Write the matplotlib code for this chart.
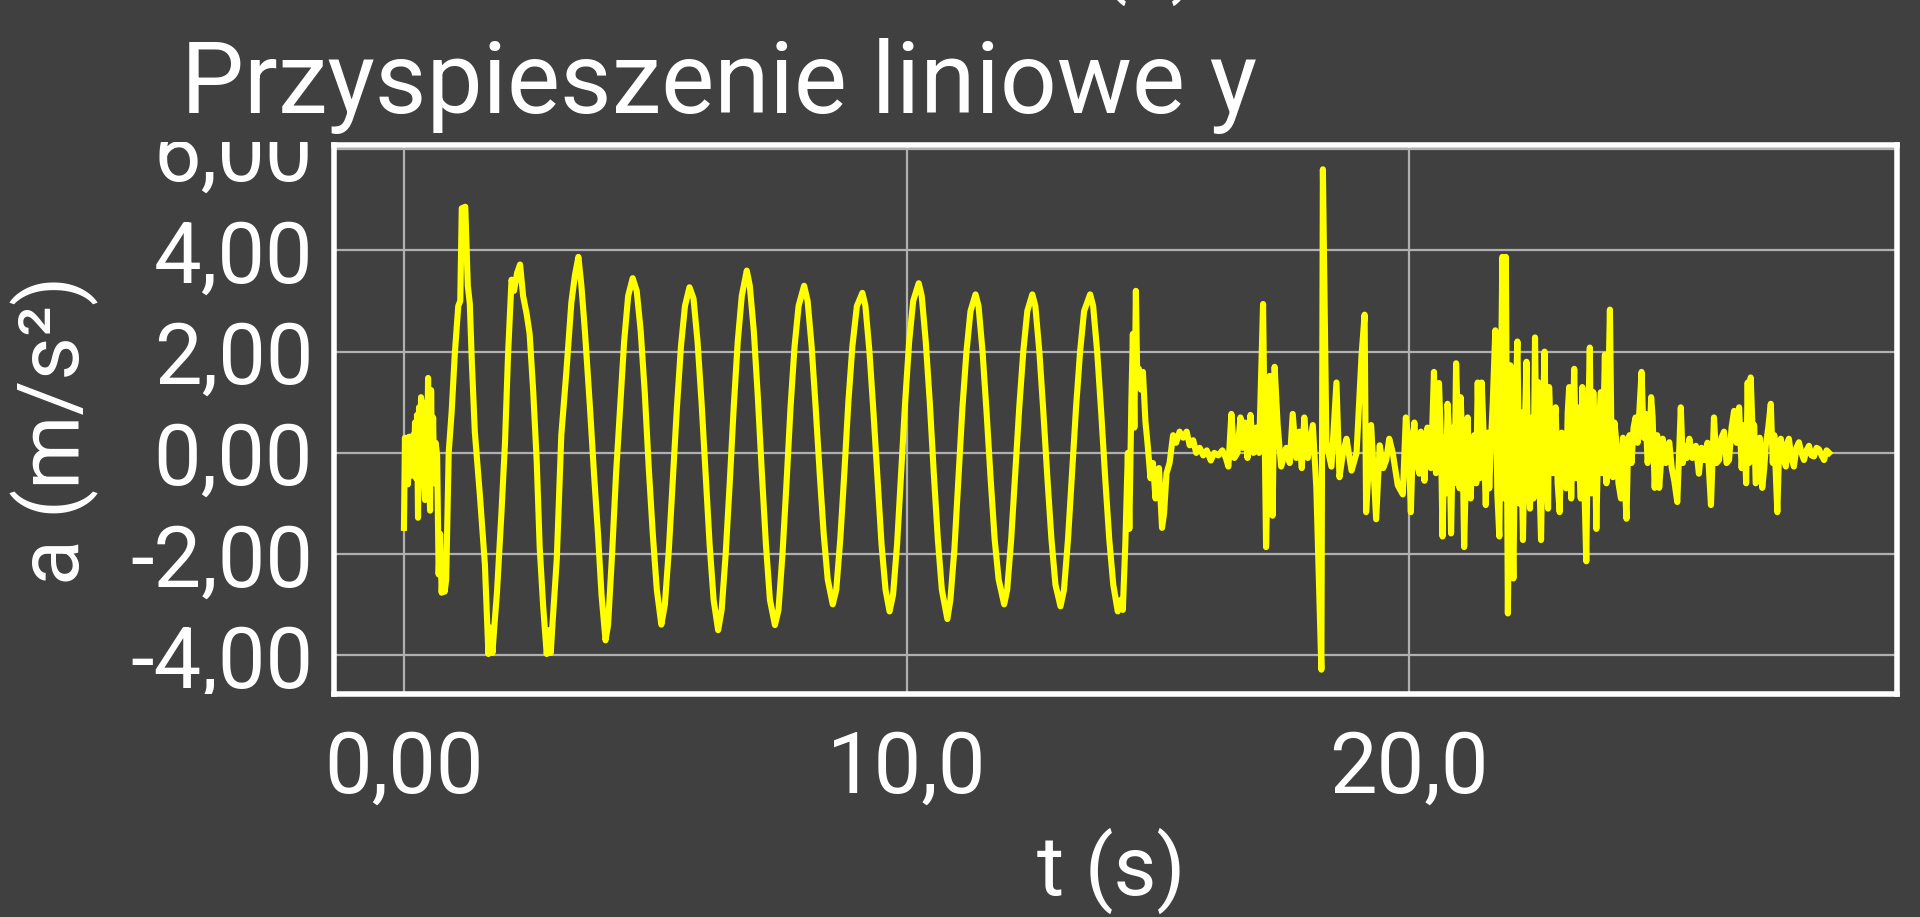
import matplotlib
matplotlib.use('Agg')
import matplotlib.pyplot as plt
from matplotlib.transforms import Bbox, TransformedBbox

# (t [s], a [m/s^2]), split into parts of the recording
onset = [
    (0.00, -1.48), (0.02, 0.30), (0.04, -0.35), (0.06, 0.28), (0.08, -0.62),
    (0.10, 0.32), (0.12, -0.20), (0.14, 0.30), (0.16, -0.45), (0.18, 0.35),
    (0.20, -0.30), (0.22, 0.60), (0.24, -0.50), (0.26, 0.75), (0.28, -1.28),
    (0.30, 0.90), (0.32, -0.60), (0.34, 1.10), (0.36, -0.40), (0.38, 0.85),
    (0.40, -0.55), (0.42, -0.93), (0.44, 1.00), (0.46, -0.20), (0.48, 1.48),
    (0.50, -0.40), (0.52, -1.14), (0.54, 1.24), (0.56, -0.30), (0.58, 0.70),
    (0.60, -0.60), (0.63, 0.20), (0.66, -0.05), (0.69, -2.40), (0.72, -1.60),
    (0.75, -2.76), (0.78, -2.20), (0.81, -2.74), (0.84, -2.50), (0.86, -1.50),
    (0.89, 0.00), (0.95, 0.83),
]

swing = [
    (1.01, 1.93), (1.08, 2.90), (1.12, 3.00), (1.15, 4.83), (1.22, 4.86),
    (1.27, 3.30), (1.31, 2.95), (1.35, 1.80), (1.41, 0.41), (1.51, -0.83),
    (1.61, -2.20), (1.68, -3.97), (1.72, -3.45), (1.76, -3.95), (1.80, -3.40),
    (1.85, -2.76), (1.94, -1.17), (2.01, 0.20), (2.07, 1.93), (2.14, 3.42),
    (2.19, 3.20), (2.25, 3.55), (2.31, 3.72), (2.37, 3.10), (2.44, 2.75),
    (2.50, 2.35), (2.57, 1.24), (2.64, -0.14), (2.70, -1.86), (2.77, -3.04),
    (2.84, -3.97), (2.88, -3.50), (2.92, -3.95), (2.96, -3.30), (3.04, -2.10),
    (3.13, 0.35), (3.23, 1.59), (3.33, 2.97), (3.40, 3.50), (3.47, 3.87),
    (3.53, 3.30), (3.60, 2.40), (3.70, 0.90), (3.78, -0.40), (3.86, -1.60),
    (3.93, -2.80), (4.01, -3.70), (4.06, -3.40), (4.14, -2.00), (4.22, -0.40),
    (4.30, 0.90), (4.38, 2.20), (4.46, 3.10), (4.55, 3.45), (4.63, 3.20),
    (4.71, 2.40), (4.79, 1.20), (4.87, -0.30), (4.95, -1.60), (5.03, -2.70),
    (5.12, -3.39), (5.19, -3.00), (5.27, -1.90), (5.35, -0.50), (5.43, 0.90),
    (5.51, 2.10), (5.59, 2.90), (5.68, 3.27), (5.76, 3.05), (5.84, 2.20),
    (5.92, 1.00), (6.00, -0.40), (6.08, -1.80), (6.16, -2.90), (6.25, -3.50),
    (6.32, -3.10), (6.40, -2.00), (6.48, -0.60), (6.56, 0.90), (6.64, 2.20),
    (6.72, 3.10), (6.82, 3.60), (6.88, 3.30), (6.96, 2.40), (7.04, 1.10),
    (7.12, -0.40), (7.20, -1.80), (7.28, -2.90), (7.38, -3.40), (7.45, -3.10),
    (7.53, -2.00), (7.61, -0.60), (7.69, 0.90), (7.77, 2.10), (7.85, 2.90),
    (7.96, 3.30), (8.03, 3.00), (8.11, 2.10), (8.19, 0.90), (8.27, -0.40),
    (8.35, -1.60), (8.43, -2.50), (8.53, -2.99), (8.60, -2.70), (8.68, -1.70),
    (8.76, -0.40), (8.84, 1.00), (8.92, 2.10), (9.01, 2.90), (9.12, 3.16),
    (9.18, 2.90), (9.26, 2.00), (9.34, 0.80), (9.42, -0.50), (9.50, -1.80),
    (9.58, -2.70), (9.66, -3.13), (9.73, -2.80), (9.81, -1.80), (9.89, -0.40),
    (9.97, 1.00), (10.05, 2.20), (10.13, 3.00), (10.24, 3.35), (10.30, 3.10),
    (10.38, 2.20), (10.46, 1.00), (10.54, -0.40), (10.62, -1.70), (10.70, -2.70),
    (10.81, -3.28), (10.87, -2.90), (10.95, -1.90), (11.03, -0.50), (11.11, 0.90),
    (11.19, 2.00), (11.27, 2.80), (11.37, 3.13), (11.43, 2.90), (11.51, 2.00),
    (11.59, 0.80), (11.67, -0.50), (11.75, -1.70), (11.83, -2.50), (11.94, -2.99),
    (12.00, -2.70), (12.08, -1.70), (12.16, -0.40), (12.24, 0.90), (12.32, 2.00),
    (12.40, 2.80), (12.50, 3.13), (12.56, 2.90), (12.64, 2.00), (12.72, 0.80),
    (12.80, -0.50), (12.88, -1.70), (12.96, -2.60), (13.06, -3.03), (13.13, -2.70),
    (13.21, -1.70), (13.29, -0.40), (13.37, 0.90), (13.45, 2.00), (13.53, 2.80),
    (13.65, 3.13), (13.71, 2.90), (13.79, 2.00), (13.87, 0.80), (13.95, -0.50),
    (14.03, -1.70), (14.11, -2.60), (14.20, -3.13), (14.26, -2.90), (14.30, -3.10),
    (14.35, -1.80),
]

decay = [
    (14.40, 0.00), (14.43, -1.50), (14.47, 1.00), (14.50, 2.35), (14.53, 0.50),
    (14.56, 3.20), (14.59, 1.30), (14.62, 1.66), (14.66, 1.25), (14.70, 1.60),
    (14.75, 0.62), (14.80, 0.10), (14.85, -0.50), (14.90, -0.20), (14.95, -0.90),
    (15.02, -0.30), (15.08, -1.48), (15.12, -1.20), (15.17, -0.40), (15.23, -0.20),
    (15.30, 0.35), (15.36, 0.20), (15.43, 0.42), (15.50, 0.30), (15.57, 0.42),
    (15.63, 0.15), (15.70, 0.25), (15.76, 0.00), (15.83, 0.10), (15.90, -0.05),
    (15.97, 0.05), (16.05, -0.15), (16.12, 0.00), (16.20, -0.05), (16.28, 0.05),
    (16.35, -0.10), (16.40, -0.27), (16.46, 0.77), (16.52, -0.10), (16.58, 0.00),
    (16.64, 0.70), (16.68, 0.10), (16.73, 0.60), (16.78, -0.10), (16.84, 0.75),
    (16.90, 0.00), (16.96, 0.50), (17.01, 0.00), (17.09, 2.94), (17.15, -1.86),
    (17.22, 1.52), (17.28, -1.24), (17.32, 1.70), (17.38, 0.55), (17.45, -0.27),
    (17.55, 0.10), (17.62, -0.20), (17.68, 0.77), (17.75, -0.10), (17.81, 0.42),
    (17.86, -0.30), (17.91, 0.70), (17.98, -0.10), (18.08, 0.55), (18.15, -0.69),
    (18.25, -4.28), (18.28, 5.60), (18.35, 0.20), (18.45, -0.27), (18.55, 1.39),
    (18.61, -0.48), (18.68, 0.00), (18.75, 0.28), (18.85, -0.35), (18.95, 0.00),
    (19.05, 1.94), (19.11, 2.73), (19.14, -1.17), (19.24, 0.55), (19.34, -1.31),
    (19.41, 0.15), (19.48, -0.30), (19.54, -0.14), (19.60, 0.28), (19.67, 0.00),
    (19.77, -0.64),
]

tail = [
    (19.87, -0.82), (19.93, 0.70), (19.98, 0.30), (20.03, -1.17), (20.07, 0.20),
    (20.10, 0.60), (20.15, -0.20), (20.20, -0.41), (20.23, 0.42), (20.27, 0.00),
    (20.30, -0.55), (20.36, 0.50), (20.40, 0.10), (20.43, -0.30), (20.49, 1.60),
    (20.53, -0.40), (20.56, 0.60), (20.59, 1.38), (20.63, 0.20), (20.66, -1.65),
    (20.70, 0.30), (20.73, -0.80), (20.76, 0.97), (20.80, 0.20), (20.83, -1.59),
    (20.87, 0.50), (20.90, -0.60), (20.93, 1.77), (20.97, 0.40), (21.00, -0.70),
    (21.02, 1.10), (21.06, 0.10), (21.09, -1.86), (21.13, -0.20), (21.16, 0.70),
    (21.19, -0.50), (21.22, -0.90), (21.26, 0.20), (21.29, 0.35), (21.33, -0.60),
    (21.36, 1.39), (21.40, -0.50), (21.44, 1.39), (21.48, 0.30), (21.52, -1.03),
    (21.56, 0.40), (21.59, -0.70), (21.62, 0.14), (21.66, 1.00), (21.71, 2.42),
    (21.75, -0.80), (21.79, -1.65), (21.82, 1.20), (21.85, 3.87), (21.89, -0.90),
    (21.92, 3.87), (21.96, -3.17), (22.01, 1.73), (22.04, -0.80), (22.07, -2.48),
    (22.11, 0.90), (22.15, 2.20), (22.19, -1.00), (22.22, 0.80), (22.26, -1.72),
    (22.30, 0.60), (22.33, 1.80), (22.37, -0.40), (22.40, -1.10), (22.44, 0.70),
    (22.47, -0.90), (22.50, 2.28), (22.53, -0.30), (22.56, 1.40), (22.59, -0.60),
    (22.62, -1.72), (22.66, 0.80), (22.69, 2.00), (22.73, -0.50), (22.76, -1.10),
    (22.78, 1.30), (22.82, 0.20), (22.85, -0.40), (22.88, 0.60), (22.91, 0.90),
    (22.95, -0.60), (22.99, -1.17), (23.03, 0.40), (23.08, 0.35), (23.12, -0.70),
    (23.15, 0.80), (23.18, 1.30), (23.22, -0.90), (23.25, 0.50), (23.28, 1.66),
    (23.32, -0.50), (23.35, 0.90), (23.38, -0.14), (23.41, -0.90), (23.44, 1.30),
    (23.48, -0.60), (23.52, -2.14), (23.55, 0.30), (23.59, 2.08), (23.62, -0.80),
    (23.66, 1.20), (23.69, 0.20), (23.72, -1.50), (23.76, 0.40), (23.81, 1.20),
    (23.84, -0.40), (23.89, 1.94), (23.92, -0.60), (23.99, 2.83), (24.02, 0.30),
    (24.05, -0.48), (24.08, 0.60), (24.12, 0.20), (24.16, -0.60), (24.21, -0.90),
    (24.25, 0.30), (24.28, -0.50), (24.32, -1.30), (24.35, 0.10), (24.38, 0.35),
    (24.42, -0.20), (24.46, 0.50), (24.50, 0.70), (24.54, 0.20), (24.58, 0.90),
    (24.62, 1.60), (24.66, 0.30), (24.70, 0.77), (24.74, -0.20), (24.78, 0.20),
    (24.81, 1.10), (24.84, 0.70), (24.88, -0.69), (24.93, 0.35), (24.97, -0.69),
    (25.04, 0.28), (25.10, -0.20), (25.17, 0.21), (25.22, -0.30), (25.27, -0.55),
    (25.33, -0.97), (25.40, 0.90), (25.44, -0.20), (25.47, 0.14), (25.52, -0.10),
    (25.57, 0.28), (25.63, -0.10), (25.70, 0.14), (25.76, -0.41), (25.81, 0.10),
    (25.86, -0.14), (25.93, 0.20), (26.00, -1.03), (26.06, 0.70), (26.11, -0.20),
    (26.16, -0.14), (26.21, 0.30), (26.26, 0.42), (26.31, -0.20), (26.36, -0.14),
    (26.41, 0.50), (26.46, 0.83), (26.51, 0.20), (26.56, 0.90), (26.61, -0.30),
    (26.66, 0.55), (26.70, -0.60), (26.73, 1.39), (26.76, -0.20), (26.79, 1.49),
    (26.83, 0.40), (26.86, 0.55), (26.89, -0.60), (26.92, -0.55), (26.97, 0.30),
    (27.02, -0.69), (27.06, -0.30), (27.09, 0.14), (27.14, 0.50), (27.19, 0.97),
    (27.23, -0.20), (27.26, 0.35), (27.29, -0.40), (27.32, -1.17), (27.36, 0.20),
    (27.39, 0.28), (27.44, -0.10), (27.49, -0.27), (27.52, 0.20), (27.55, 0.28),
    (27.60, -0.10), (27.65, -0.27), (27.70, 0.10), (27.75, 0.21), (27.80, 0.00),
    (27.85, -0.14), (27.90, 0.05), (27.95, 0.14), (28.00, -0.05), (28.05, -0.07),
    (28.10, 0.10), (28.15, 0.07), (28.20, -0.05), (28.25, -0.14), (28.30, 0.05),
    (28.35, 0.00),
]

x_ticks = [0, 10, 20]
x_labels = ['0,00', '10,0', '20,0']
y_ticks = [-4, -2, 0, 2, 4, 6]
y_labels = ['-4,00', '-2,00', '0,00', '2,00', '4,00', '6,00']

BG = '#404040'
plt.rcParams['font.family'] = ['Roboto', 'DejaVu Sans']

fig = plt.figure(figsize=(19.2, 9.17), dpi=100, facecolor=BG)
ax = fig.add_axes([0.174, 0.2432, 0.814, 0.5987], facecolor=BG)

points = onset + swing + decay + tail
t = [p[0] for p in points]
a = [p[1] for p in points]
ax.plot(t, a, color='#ffff00', lw=4.4, zorder=3)

ax.set_xlim(-1.39, 29.70)
ax.set_ylim(-4.76, 6.08)
ax.set_xticks(x_ticks)
ax.set_xticklabels(x_labels)
ax.set_yticks(y_ticks)
ax.set_yticklabels(y_labels)

ax.grid(True, color='#b0b0b0', lw=1.6)
ax.set_axisbelow(True)
for s in ax.spines.values():
    s.set_color('white')
    s.set_linewidth(4)
    s.set_zorder(4)

ax.tick_params(length=0, labelsize=61, colors='white')
ax.tick_params(axis='x', pad=25)
ax.tick_params(axis='y', pad=15)

# the top label gets cut by the frame in the original
clip = TransformedBbox(Bbox([[-0.3, 0.0], [1.0, 1.005]]), ax.transAxes)
for lab in ax.get_yticklabels():
    lab.set_clip_box(clip)
    lab.set_clip_on(True)

ax.set_xlabel('t (s)', fontsize=60, color='white')
ax.xaxis.set_label_coords(0.497, -0.366)
ax.xaxis.label.set_va('baseline')
ax.set_ylabel('a (m/s²)', fontsize=61, color='white')
ax.yaxis.set_label_coords(-0.1785, 0.48)
ax.yaxis.label.set_va('center')

fig.text(181 / 1920, 1 - 113 / 917, 'Przyspieszenie liniowe y', fontsize=72,
         color='white', ha='left', va='baseline')
# bottom of the previous chart's axis label, peeking in at the top edge
fig.text(1125 / 1920, 1 + 13 / 917, 't (s)', fontsize=60, color='white',
         ha='center', va='baseline')

fig.savefig('out.png', dpi=100, facecolor=BG)
